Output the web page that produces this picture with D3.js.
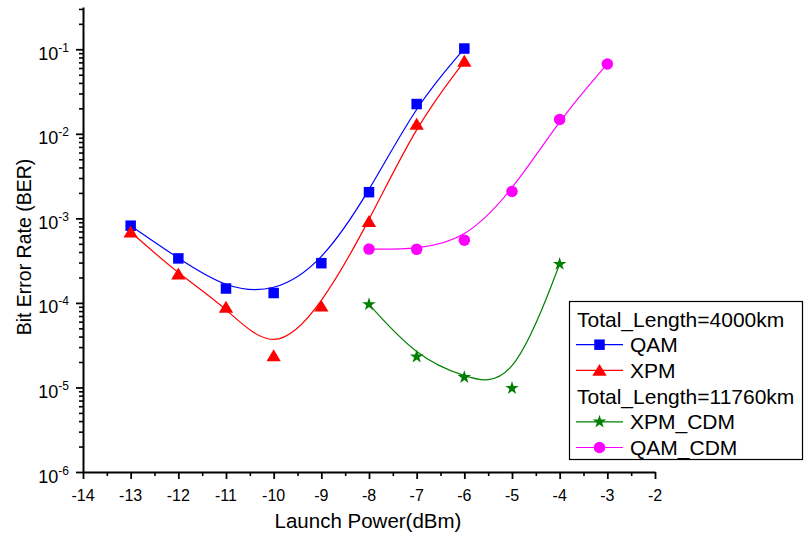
<!DOCTYPE html>
<html>
<head>
<meta charset="utf-8">
<script src="https://cdn.jsdelivr.net/npm/d3@7"></script>
<style>
  html, body { margin: 0; padding: 0; background: #fff; }
  svg { display: block; font-family: "Liberation Sans", Arial, sans-serif; }
</style>
</head>
<body>
<svg id="chart" width="805" height="533"></svg>
<script>
// Launch power (dBm) sweeps for each configuration
const powerShort = [-13, -12, -11, -10, -9, -8, -7, -6];
const berQAM = [8.19e-4, 3.36e-4, 1.48e-4, 1.31e-4, 2.95e-4, 2.04e-3, 2.25e-2, 0.102];
const berXPM = [6.9e-4, 2.2e-4, 8.87e-5, 2.37e-5, 9.16e-5, 9.18e-4, 1.30e-2, 0.072];

const powerXpmCdm = [-8, -7, -6, -5, -4];
const berXpmCdm = [9.6e-5, 2.31e-5, 1.32e-5, 9.8e-6, 2.88e-4];

const powerQamCdm = [-8, -7, -6, -5, -4, -3];
const berQamCdm = [4.33e-4, 4.3e-4, 5.52e-4, 2.08e-3, 1.48e-2, 0.067];

// Axis ticks
const xTicks = [-14, -13, -12, -11, -10, -9, -8, -7, -6, -5, -4, -3, -2];
const yExponents = [-6, -5, -4, -3, -2, -1];

const svg = d3.select("#chart");

const x = d3.scaleLinear().domain([-14, -2]).range([83, 655]);
const y = d3.scaleLog().domain([1e-6, Math.pow(10, -0.5)]).range([472, 7]);

// ---- axes ----
const xMinor = d3.range(-14, -2, 1).map(v => v + 0.5);
svg.append("g")
  .attr("transform", `translate(0,${y.range()[0]})`)
  .call(d3.axisBottom(x).tickValues(xMinor).tickSize(4).tickSizeOuter(0).tickFormat(""))
  .call(g => g.select(".domain").remove())
  .call(g => g.selectAll("line").attr("stroke", "#000").attr("stroke-width", 1.6));

svg.append("g")
  .attr("transform", `translate(0,${y.range()[0]})`)
  .call(d3.axisBottom(x).tickValues(xTicks).tickSize(7).tickSizeOuter(0).tickFormat(""))
  .call(g => g.select(".domain").attr("stroke", "#000").attr("stroke-width", 2))
  .call(g => g.selectAll("line").attr("stroke", "#000").attr("stroke-width", 1.8));

svg.append("g").selectAll("text")
  .data(xTicks)
  .join("text")
  .attr("x", d => x(d))
  .attr("y", 500.5)
  .attr("text-anchor", "middle")
  .attr("font-size", 16)
  .attr("fill", "#000")
  .text(d => d);

const yMinor = [];
for (let e = -6; e <= -1; e++) {
  for (let m = 2; m <= 9; m++) {
    const v = m * Math.pow(10, e);
    if (v <= y.domain()[1]) yMinor.push(v);
  }
}
svg.append("g")
  .attr("transform", `translate(${x.range()[0]},0)`)
  .call(d3.axisLeft(y).tickValues(yMinor).tickSize(4).tickSizeOuter(0).tickFormat(""))
  .call(g => g.select(".domain").remove())
  .call(g => g.selectAll("line").attr("stroke", "#000").attr("stroke-width", 1.6));

svg.append("g")
  .attr("transform", `translate(${x.range()[0]},0)`)
  .call(d3.axisLeft(y).tickValues(yExponents.map(e => Math.pow(10, e))).tickSize(7).tickSizeOuter(0).tickFormat(""))
  .call(g => g.select(".domain").attr("stroke", "#000").attr("stroke-width", 2))
  .call(g => g.selectAll("line").attr("stroke", "#000").attr("stroke-width", 1.8));

const yLab = svg.append("g").selectAll("text")
  .data(yExponents)
  .join("text")
  .attr("x", 69)
  .attr("y", d => y(Math.pow(10, d)) + 10.5)
  .attr("text-anchor", "end")
  .attr("fill", "#000");
yLab.append("tspan").attr("font-size", 18).text("10");
yLab.append("tspan").attr("font-size", 12).attr("dy", -8).text(d => d);

// axis titles
svg.append("text")
  .attr("x", 368).attr("y", 528)
  .attr("text-anchor", "middle")
  .attr("font-size", 20.5)
  .text("Launch Power(dBm)");

svg.append("text")
  .attr("transform", "translate(31,247) rotate(-90)")
  .attr("text-anchor", "middle")
  .attr("font-size", 19.5)
  .text("Bit Error Rate (BER)");

// ---- series ----
const markers = {
  square: s => `M${-s/2},${-s/2}h${s}v${s}h${-s}Z`,
  triangle: s => `M0,${-s*0.5}L${s*0.55},${s*0.42}L${-s*0.55},${s*0.42}Z`,
  circle: s => d3.symbol(d3.symbolCircle, Math.PI * (s/2) * (s/2))(),
  star: s => d3.symbol(d3.symbolStar, s * s * 0.31)()
};

const series = [
  { name: "QAM", xs: powerShort, ys: berQAM, color: "#0000ff", marker: "square", size: 10.5 },
  { name: "XPM", xs: powerShort, ys: berXPM, color: "#ff0000", marker: "triangle", size: 13 },
  { name: "XPM_CDM", xs: powerXpmCdm, ys: berXpmCdm, color: "#008000", marker: "star", size: 13.5 },
  { name: "QAM_CDM", xs: powerQamCdm, ys: berQamCdm, color: "#ff00ff", marker: "circle", size: 11.5 }
];

const line = d3.line()
  .x(d => x(d[0]))
  .y(d => y(d[1]))
  .curve(d3.curveBasis);

const plot = svg.append("g");
series.forEach(s => {
  const pts = s.xs.map((v, i) => [v, s.ys[i]]);
  plot.append("path")
    .attr("d", line(pts))
    .attr("fill", "none")
    .attr("stroke", s.color)
    .attr("stroke-width", 1.2);
});
series.forEach(s => {
  const pts = s.xs.map((v, i) => [v, s.ys[i]]);
  plot.append("g").selectAll("path")
    .data(pts)
    .join("path")
    .attr("transform", d => `translate(${x(d[0])},${y(d[1])})`)
    .attr("d", markers[s.marker](s.size))
    .attr("fill", s.color);
});

// ---- legend ----
const legend = svg.append("g");
legend.append("rect")
  .attr("x", 569.5).attr("y", 301.5)
  .attr("width", 233).attr("height", 158)
  .attr("fill", "#fff")
  .attr("stroke", "#000")
  .attr("stroke-width", 1.2);

const legendRows = [
  { title: "Total_Length=4000km" },
  { s: series[0] },
  { s: series[1] },
  { title: "Total_Length=11760km" },
  { s: series[2] },
  { s: series[3] }
];
legendRows.forEach((r, i) => {
  const cy = 319 + i * 25.7;
  if (r.title) {
    legend.append("text")
      .attr("x", 577).attr("y", cy + 7.5)
      .attr("font-size", 21)
      .text(r.title);
  } else {
    legend.append("line")
      .attr("x1", 576).attr("x2", 623)
      .attr("y1", cy).attr("y2", cy)
      .attr("stroke", r.s.color)
      .attr("stroke-width", 1.2);
    legend.append("path")
      .attr("transform", `translate(599.5,${cy})`)
      .attr("d", markers[r.s.marker](r.s.size))
      .attr("fill", r.s.color);
    legend.append("text")
      .attr("x", 630).attr("y", cy + 7.5)
      .attr("font-size", 21)
      .text(r.s.name);
  }
});
</script>
</body>
</html>
